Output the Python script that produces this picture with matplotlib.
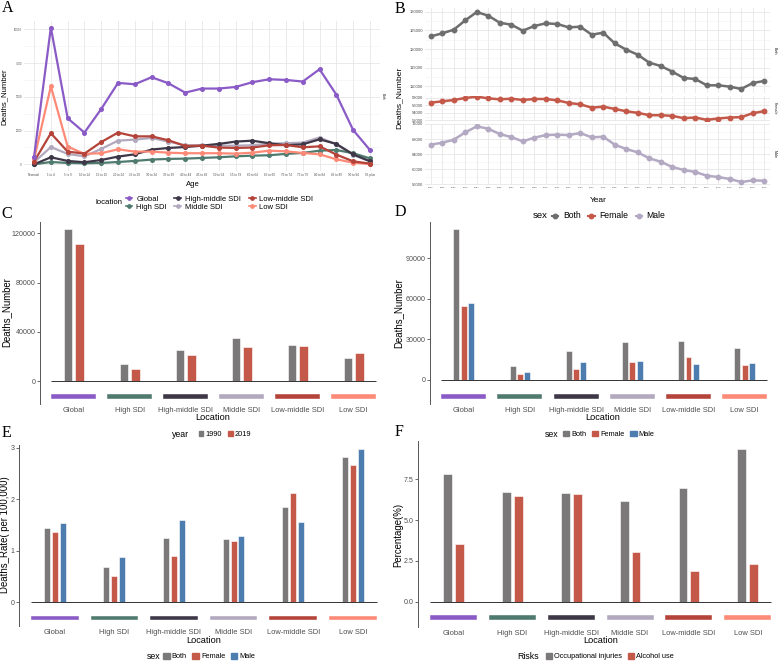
import matplotlib
matplotlib.use('Agg')
import matplotlib.pyplot as plt
from matplotlib.lines import Line2D
from matplotlib.patches import Patch, Rectangle
import numpy as np

plt.rcParams['font.family'] = ['Liberation Sans', 'DejaVu Sans']

# ---------------- data ----------------
ages = ["Neonatal", "1 to 4", "5 to 9", "10 to 14", "15 to 19", "20 to 24", "25 to 29",
        "30 to 34", "35 to 39", "40 to 44", "45 to 49", "50 to 54", "55 to 59", "60 to 64",
        "65 to 69", "70 to 74", "75 to 79", "80 to 84", "85 to 89", "90 to 94", "95 plus"]
locations = ["Global", "High SDI", "High-middle SDI", "Middle SDI", "Low-middle SDI", "Low SDI"]

age_global = [570, 10130, 3410, 2350, 4100, 6030, 5930, 6450, 6000, 5310, 5610, 5610, 5730,
              6080, 6300, 6250, 6130, 7040, 5160, 2540, 1060]
age_high = [0, 170, 100, 75, 100, 170, 250, 350, 400, 420, 470, 520, 590, 640, 670, 770,
            840, 1010, 1060, 820, 440]
age_highmid = [0, 520, 250, 150, 320, 570, 740, 1090, 1210, 1280, 1380, 1510, 1680, 1750,
               1560, 1410, 1480, 1850, 1510, 740, 220]
age_mid = [150, 1280, 770, 590, 1140, 1750, 1830, 1950, 1680, 1410, 1410, 1380, 1380, 1410,
           1530, 1560, 1610, 1980, 1480, 690, 250]
age_lowmid = [200, 2300, 940, 790, 1650, 2350, 2070, 2070, 1780, 1360, 1380, 1240, 1210, 1240,
              1410, 1430, 1260, 1330, 720, 220, 50]
age_low = [370, 5780, 1310, 770, 820, 1110, 940, 940, 860, 820, 820, 820, 790, 860, 1010, 960,
           840, 740, 370, 120, 25]

years = list(range(1990, 2020))
year_both = [123390, 124200, 125180, 127680, 129910, 128930, 127050, 126520, 124910, 126160,
             126880, 126700, 125800, 125980, 123840, 124380, 121520, 119820, 118480, 116340,
             115450, 113930, 112230, 111960, 110270, 110270, 109910, 109290, 110890, 111430]
year_female = [56750, 57100, 57460, 58000, 58360, 57910, 57640, 57820, 57460, 57730, 57730,
               57370, 56660, 56300, 55400, 55670, 55050, 54420, 54000, 53370, 53370, 53190,
               52570, 52750, 52120, 52480, 52750, 52840, 53910, 54450]
year_male = [66500, 67030, 67820, 69770, 71360, 70740, 69330, 68530, 67380, 68350, 69060,
             69150, 69060, 69590, 68440, 68620, 66500, 65350, 64470, 62880, 61990, 60580,
             59790, 59260, 58280, 57930, 57400, 56600, 57040, 56950]

deaths_1990 = [123400, 13800, 25600, 34900, 29700, 19100]
deaths_2019 = [111400, 10250, 21400, 27850, 28600, 23100]

deaths_both = [111400, 10350, 21650, 27860, 28600, 23430]
deaths_female = [54500, 4430, 8350, 13520, 16770, 11090]
deaths_male = [56900, 5910, 13080, 14040, 11600, 12340]

rate_both = [1.44, 0.69, 1.24, 1.23, 1.85, 2.82]
rate_female = [1.37, 0.52, 0.90, 1.18, 2.12, 2.67]
rate_male = [1.53, 0.87, 1.60, 1.28, 1.55, 2.98]

pct_occupational = [7.85, 6.70, 6.66, 6.19, 6.99, 9.38]
pct_alcohol = [3.52, 6.50, 6.60, 3.05, 1.90, 2.29]

# ---------------- style ----------------
loc_colors = ["#8A5BC6", "#4F7A6E", "#3E3747", "#B2A9BE", "#B4433A", "#FC8A77"]
GRAY, RED, BLUE = "#7A7878", "#C4594A", "#4C7DAE"
B_COLORS = ["#6E6E6E", "#C4594A", "#B3A9C3"]
TXT = "#4D4D4D"
SERIF = ['Liberation Serif', 'DejaVu Serif']

W, H = 780, 661
fig = plt.figure(figsize=(W / 100, H / 100), dpi=100)


def box(l, t, r, b):
    return [l / W, 1 - b / H, (r - l) / W, (b - t) / H]


def fx(x):
    return x / W


def fy(y):
    return 1 - y / H


def ylim_from(v0, p0, v1, p1, top, bottom):
    k = (v1 - v0) / (p0 - p1)
    return v0 - (bottom - p0) * k, v0 + (p0 - top) * k


def letter(x, y, s):
    fig.text(fx(x), fy(y), s, fontsize=11.5, family=SERIF, ha='left', va='center')


def legend_row(handles, labels, title, x_title, key_x, y, fs, tfs, hl, tp, cs, ncol=None, ls=0.3):
    fig.text(fx(x_title), fy(y), title, fontsize=tfs, ha='left', va='center')
    fig.legend(handles, labels, loc='center left', bbox_to_anchor=(fx(key_x), fy(y)),
               ncol=ncol or len(handles), frameon=False, fontsize=fs, borderpad=0,
               borderaxespad=0, handlelength=hl, handleheight=hl * 0.9, handletextpad=tp,
               columnspacing=cs, labelspacing=ls)


# ---------------- panel A ----------------
axA = fig.add_axes(box(24, 20.7, 380, 171.1))
xa = np.arange(len(ages))
age_series = [age_global, age_high, age_highmid, age_mid, age_lowmid, age_low]
order = [3, 1, 2, 5, 4, 0]
for i in order:
    axA.plot(xa, age_series[i], color=loc_colors[i], lw=1.6, marker='o', ms=2.6, zorder=3)
axA.set_xlim(-0.6, len(ages) - 0.4)
axA.set_ylim(*ylim_from(0, 164.3, 10000, 29.3, 20.7, 171.1))
axA.set_xticks(xa)
axA.set_xticklabels(ages, fontsize=2.2, color=TXT)
axA.set_yticks([0, 2500, 5000, 7500, 10000])
axA.set_yticks([1250, 3750, 6250, 8750], minor=True)
axA.set_yticklabels(["0", "2500", "5000", "7500", "10000"], fontsize=2.0, color=TXT)
axA.tick_params(which='both', length=0, pad=1.5)
axA.grid(which='major', color='#E6E6E6', lw=0.6)
axA.grid(which='minor', axis='y', color='#F2F2F2', lw=0.4)
axA.set_axisbelow(True)
for s in axA.spines.values():
    s.set_visible(False)
fig.text(fx(383), fy(96), "Both", fontsize=2.3, rotation=270, ha='center', va='center', color='#1A1A1A')
fig.text(fx(193.3), fy(184.3), "Age", fontsize=5.5, ha='center', va='center')
fig.text(fx(4.5), fy(96.7), "Deaths_Number", fontsize=5.6, rotation=90, ha='center', va='center')
hA = [Line2D([], [], color=c, lw=1.2, marker='o', ms=2.4) for c in loc_colors]
legend_row(hA, locations, "location", 95, 125.5, 203, 5.5, 5.6, 0.9, 0.5, 1.0, ncol=3, ls=0.05)
letter(1.5, 8, "A")

# ---------------- panel B ----------------
b_vals = [year_both, year_female, year_male]
b_names = ["Both", "Female", "Male"]
b_boxes = [(8.2, 92.8), (95.5, 121.0), (123.6, 184.8)]
b_ticks = [[110000, 115000, 120000, 125000, 130000], [52000, 54000, 56000, 58000],
           [56000, 60000, 64000, 68000, 72000]]
b_minor = [[112500, 117500, 122500, 127500], [53000, 55000, 57000],
           [58000, 62000, 66000, 70000]]
for k in range(3):
    t, b = b_boxes[k]
    ax = fig.add_axes(box(425, t, 770, b))
    ax.plot(years, b_vals[k], color=B_COLORS[k], lw=1.8, marker='o', ms=3.2, zorder=3)
    ax.set_xlim(1989.5, 2019.5)
    ax.margins(y=0.05)
    ax.set_yticks(b_ticks[k])
    ax.set_yticks(b_minor[k], minor=True)
    ax.set_yticklabels([str(v) for v in b_ticks[k]], fontsize=3.0, color=TXT)
    ax.set_xticks(years)
    if k == 2:
        ax.set_xticklabels([str(y) for y in years], fontsize=1.7, color=TXT)
    else:
        ax.set_xticklabels([])
    ax.tick_params(which='both', length=0, pad=1.5)
    ax.grid(which='major', color='#E6E6E6', lw=0.6)
    ax.grid(which='minor', axis='y', color='#F2F2F2', lw=0.4)
    ax.set_axisbelow(True)
    for s in ax.spines.values():
        s.set_visible(False)
    fig.text(fx(775), fy((t + b) / 2), b_names[k], fontsize=2.7, rotation=270,
             ha='center', va='center', color='#1A1A1A')
fig.text(fx(598.7), fy(200), "Year", fontsize=6.0, ha='center', va='center')
fig.text(fx(399), fy(98.3), "Deaths_Number", fontsize=6.1, rotation=90, ha='center', va='center')
hB = [Line2D([], [], color=c, lw=1.5, marker='o', ms=3.2) for c in B_COLORS]
legend_row(hB, b_names, "sex", 533, 552, 216, 6.2, 6.8, 0.75, 0.5, 0.9)
letter(395, 9, "B")


# ---------------- bar panels ----------------
def bar_panel(l, t, r, b, xlim_r, ylim, series, colors, offsets, width, ticks, ticklabels,
              strip, xl_pos, yl_pos, ylabel):
    ax = fig.add_axes(box(l, t, r, b))
    xc = np.arange(1, len(locations) + 1)
    for vals, c, o in zip(series, colors, offsets):
        ax.bar(xc + o, vals, width=width, color=c, edgecolor='white', lw=0.4, zorder=2)
    ax.hlines(0, 0.6, 6.4, color='#333333', lw=0.7, zorder=3)
    for i, c in enumerate(loc_colors):
        ax.add_patch(Rectangle((xc[i] - 0.4, strip[0]), 0.8, strip[1] - strip[0],
                               facecolor=c, edgecolor='white', lw=0.3, zorder=2))
    ax.set_xlim(0.4, xlim_r)
    ax.set_ylim(*ylim)
    ax.set_xticks(xc)
    ax.set_xticklabels(locations, fontsize=5.4, color=TXT)
    ax.tick_params(axis='x', length=0, pad=1.8)
    ax.set_yticks(ticks)
    ax.set_yticklabels(ticklabels, fontsize=5.1, color=TXT)
    ax.tick_params(axis='y', length=2.2, width=0.5, color='#333333', pad=1.0)
    for s in ['top', 'right', 'bottom']:
        ax.spines[s].set_visible(False)
    ax.spines['left'].set_color('#555555')
    ax.spines['left'].set_linewidth(0.7)
    ax.patch.set_alpha(0)
    fig.text(fx(xl_pos[0]), fy(xl_pos[1]), "Location", fontsize=6.6, ha='center', va='center')
    fig.text(fx(yl_pos[0]), fy(yl_pos[1]), ylabel, fontsize=6.9, rotation=90, ha='center', va='center')
    return ax


# C
bar_panel(40, 222, 387.2, 404, 6.6, ylim_from(0, 381.3, 80000, 282.7, 222, 404),
          [deaths_1990, deaths_2019], [GRAY, RED], [-0.1, 0.1], 0.16,
          [0, 40000, 80000, 120000], ["0", "40000", "80000", "120000"],
          (-14000, -10000), (213, 418), (6.7, 311.7), "Deaths_Number")
letter(1.5, 214, "C")
legend_row([Patch(color=GRAY), Patch(color=RED)], ["1990", "2019"], "year", 172, 198.5, 434.5,
           5.3, 6.3, 0.62, 0.3, 0.85)

# D
bar_panel(430, 222, 778.4, 404, 6.6, ylim_from(0, 380, 90000, 258.3, 222, 404),
          [deaths_both, deaths_female, deaths_male], [GRAY, RED, BLUE], [-0.13, 0, 0.13], 0.105,
          [0, 30000, 60000, 90000], ["0", "30000", "60000", "90000"],
          (-14000, -10000), (603, 418), (398.3, 313.3), "Deaths_Number")
letter(395, 211.5, "D")
legend_row([Patch(color=GRAY), Patch(color=RED), Patch(color=BLUE)], ["Both", "Female", "Male"],
           "sex", 545, 563, 434.5, 5.3, 6.3, 0.85, 0.3, 0.75)

# E
bar_panel(19, 445, 388.5, 626, 6.6, ylim_from(0, 602.3, 3, 447.7, 445, 626),
          [rate_both, rate_female, rate_male], [GRAY, RED, BLUE], [-0.133, 0, 0.133], 0.1,
          [0, 1, 2, 3], ["0", "1", "2", "3"],
          (-0.35, -0.26), (203.7, 640.7), (5, 535), "Deaths_Rate( per 100,000)")
letter(1.5, 433, "E")
legend_row([Patch(color=GRAY), Patch(color=RED), Patch(color=BLUE)], ["Both", "Female", "Male"],
           "sex", 146.7, 163.3, 656.7, 5.3, 6.3, 0.85, 0.3, 0.75)

# F
bar_panel(418.2, 440.7, 780, 627.3, 0.4 + (780 - 418.2) / 58.85,
          ylim_from(0, 601.7, 7.5, 479.3, 440.7, 627.3),
          [pct_occupational, pct_alcohol], [GRAY, RED], [-0.1, 0.1], 0.15,
          [0, 2.5, 5.0, 7.5], ["0.0", "2.5", "5.0", "7.5"],
          (-1.12, -0.83), (601, 640.5), (398.3, 535), "Percentage(%)")
letter(395, 432.5, "F")
legend_row([Patch(color=GRAY), Patch(color=RED)], ["Occupational injuries", "Alcohol use"],
           "Risks", 517.7, 546, 656.7, 5.3, 6.3, 0.85, 0.3, 0.75)

fig.savefig("out.png", dpi=100)
